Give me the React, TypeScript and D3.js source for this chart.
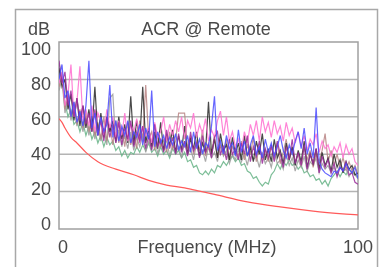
import React, { useEffect, useRef } from 'react';
import * as d3 from 'd3';

// frequency points (MHz) shared by the measured pairs
const freq = [
  0, 1, 2, 3, 4, 5, 6, 7, 8, 9, 10, 11, 12, 13, 14, 15, 16, 17, 18, 19,
  20, 21, 22, 23, 24, 25, 26, 27, 28, 29, 30, 31, 32, 33, 34, 35, 36, 37, 38, 39,
  40, 41, 42, 43, 44, 45, 46, 47, 48, 49, 50, 51, 52, 53, 54, 55, 56, 57, 58, 59,
  60, 61, 62, 63, 64, 65, 66, 67, 68, 69, 70, 71, 72, 73, 74, 75, 76, 77, 78, 79,
  80, 81, 82, 83, 84, 85, 86, 87, 88, 89, 90, 91, 92, 93, 94, 95, 96, 97, 98, 99, 100,
];

const greenPair = [
  89, 80, 68, 60, 64, 56, 58, 52, 57, 50,
  55, 48, 52, 46, 50, 44, 49, 45, 47, 42,
  44, 39, 42, 38, 41, 40, 44, 41, 45, 42,
  46, 41, 43, 39, 44, 40, 42, 38, 43, 40,
  42, 38, 41, 36, 37, 33, 34, 30, 29, 31,
  29, 32, 30, 34, 33, 36, 34, 37, 39, 36,
  38, 34, 35, 31, 30, 27, 28, 25, 23, 25,
  24, 29, 31, 35, 32, 36, 34, 37, 34, 35,
  32, 34, 30, 31, 28, 29, 26, 27, 24, 26,
  23, 27, 29, 31, 28, 31, 29, 32, 30, 29, 28,
];

const grayPair = [
  74, 80, 62, 70, 58, 66, 55, 62, 52, 60,
  50, 58, 48, 56, 47, 54, 45, 70, 72, 46,
  53, 44, 50, 43, 52, 42, 49, 44, 51, 41,
  47, 43, 50, 40, 46, 42, 48, 39, 45, 41,
  44, 38, 47, 40, 43, 37, 46, 39, 42, 36,
  44, 38, 41, 36, 45, 39, 42, 35, 40, 37,
  43, 36, 40, 34, 42, 37, 39, 33, 41, 35,
  38, 33, 41, 35, 37, 32, 40, 34, 38, 31,
  37, 33, 39, 31, 36, 34, 38, 30, 35, 32,
  34, 30, 33, 29, 35, 31, 32, 28, 31, 29, 27,
];

const brownPair = [
  76, 82, 64, 72, 60, 68, 56, 64, 54, 62,
  52, 60, 50, 57, 48, 60, 47, 56, 45, 58,
  46, 54, 44, 57, 45, 52, 43, 58, 47, 77,
  48, 52, 42, 50, 44, 48, 41, 52, 43, 47,
  62, 62, 62, 43, 50, 40, 47, 42, 53, 39,
  46, 41, 50, 38, 45, 40, 48, 37, 44, 41,
  39, 47, 37, 45, 40, 49, 36, 44, 38, 42,
  36, 44, 39, 46, 35, 41, 48, 37, 43, 36,
  40, 34, 44, 37, 42, 33, 40, 36, 42, 51,
  36, 42, 34, 40, 33, 38, 32, 36, 31, 34, 29,
];

const blackPair = [
  86, 76, 80, 64, 72, 58, 70, 55, 66, 54,
  64, 52, 76, 50, 62, 49, 60, 52, 58, 47,
  60, 48, 56, 46, 71, 45, 58, 47, 76, 46,
  54, 44, 52, 43, 57, 42, 50, 45, 53, 41,
  50, 42, 55, 40, 48, 43, 52, 39, 46, 41,
  68, 40, 48, 38, 51, 42, 45, 37, 49, 40,
  46, 37, 50, 39, 44, 36, 47, 40, 51, 37,
  43, 36, 48, 38, 42, 35, 46, 37, 44, 34,
  42, 36, 47, 33, 40, 35, 43, 32, 41, 34,
  38, 31, 40, 33, 37, 30, 36, 32, 34, 29, 30,
];

const pinkPair = [
  78, 84, 66, 72, 88, 60, 68, 87, 58, 64,
  55, 66, 52, 62, 58, 50, 64, 54, 60, 49,
  58, 50, 62, 47, 56, 52, 59, 46, 55, 50,
  54, 46, 57, 49, 52, 60, 47, 56, 50, 58,
  52, 60, 48, 58, 54, 62, 49, 56, 51, 59,
  47, 53, 49, 58, 63, 50, 60, 47, 52, 44,
  48, 42, 52, 46, 56, 50, 58, 47, 60, 52,
  57, 49, 58, 51, 55, 47, 57, 50, 54, 46,
  52, 44, 50, 42, 48, 45, 51, 41, 47, 43,
  45, 39, 44, 41, 46, 38, 45, 40, 43, 36, 34,
];

const purplePair = [
  90, 78, 84, 66, 74, 60, 70, 58, 66, 56,
  62, 52, 64, 50, 58, 47, 60, 49, 56, 46,
  57, 45, 54, 48, 58, 44, 52, 47, 55, 43,
  50, 42, 56, 44, 48, 41, 53, 43, 49, 40,
  51, 41, 47, 39, 52, 42, 46, 38, 50, 41,
  45, 38, 49, 52, 40, 44, 37, 48, 40, 43,
  37, 46, 40, 50, 36, 44, 39, 47, 35, 43,
  38, 45, 36, 47, 40, 33, 44, 37, 48, 35,
  41, 34, 45, 32, 40, 35, 43, 30, 39, 33,
  37, 30, 35, 28, 33, 31, 36, 29, 30, 25, 24,
];

const bluePair = [
  80, 88, 70, 74, 60, 68, 57, 63, 55, 66,
  90, 54, 62, 50, 60, 52, 56, 77, 49, 58,
  47, 55, 50, 58, 46, 52, 49, 56, 45, 54,
  48, 74, 44, 52, 46, 50, 43, 49, 45, 51,
  42, 47, 44, 50, 41, 52, 43, 48, 40, 46,
  44, 55, 71, 42, 47, 40, 50, 43, 46, 39,
  53, 41, 47, 39, 45, 50, 40, 44, 38, 48,
  41, 46, 39, 44, 50, 42, 38, 45, 40, 47,
  52, 43, 54, 40, 46, 38, 65, 36, 32, 30,
  29, 28, 31, 30, 33, 31, 35, 32, 30, 33, 27,
];

// ACR limit line
const limitFreq = [0, 1, 2, 4, 6, 9, 13, 19, 25, 30, 36, 42, 47, 52, 63, 74, 85, 96, 100];
const limitDb = [59, 57, 54, 49, 46, 41, 36, 32, 29, 26, 23.5, 22, 20.3, 18.5, 14.5, 11.8, 9.6, 8, 7.5];

const yTicks = [0, 20, 40, 60, 80, 100];
const xTicks = [0, 100];

const pairs = [
  { name: 'green', color: '#66b386', values: greenPair },
  { name: 'gray', color: '#9a9a9a', values: grayPair },
  { name: 'brown', color: '#b88484', values: brownPair },
  { name: 'black', color: '#2a2a2a', values: blackPair },
  { name: 'pink', color: '#ff6fd0', values: pinkPair },
  { name: 'purple', color: '#9a2a9a', values: purplePair },
  { name: 'blue', color: '#4a4aff', values: bluePair },
];

const App = () => {
  const ref = useRef<SVGSVGElement | null>(null);

  useEffect(() => {
    const svg = d3.select(ref.current);
    svg.selectAll('*').remove();

    const font = '"Liberation Sans", Arial, sans-serif';
    const textColor = '#4a4a4a';
    const left = 59, right = 358, top = 42, bottom = 229;

    const x = d3.scaleLinear().domain([0, 100]).range([left, right]);
    const y = d3.scaleLinear().domain([0, 100]).range([bottom, top]);
    // tick labels sit a bit tighter than the grid in the original
    const yLab = d3.scaleLinear().domain([0, 100]).range([224, 48.5]);

    const defs = svg.append('defs');
    defs.append('filter').attr('id', 'soft')
      .append('feGaussianBlur').attr('stdDeviation', 0.6);
    defs.append('clipPath').attr('id', 'plotclip')
      .append('rect').attr('x', left).attr('y', top)
      .attr('width', right - left).attr('height', bottom - top);

    const g = svg.append('g').attr('filter', 'url(#soft)');

    g.append('rect').attr('width', 388).attr('height', 267).attr('fill', '#fff');

    // outer frame
    g.append('rect')
      .attr('x', 15.5).attr('y', 9.5).attr('width', 362).attr('height', 280)
      .attr('fill', 'none').attr('stroke', '#a8a8a8').attr('stroke-width', 1.5);

    // grid
    g.selectAll('.grid').data(yTicks.filter(d => d > 0 && d < 100)).enter()
      .append('line')
      .attr('x1', left).attr('x2', right)
      .attr('y1', d => y(d)).attr('y2', d => y(d))
      .attr('stroke', '#b4b4b4').attr('stroke-width', 1.5);

    g.append('rect')
      .attr('x', left).attr('y', top).attr('width', right - left).attr('height', bottom - top)
      .attr('fill', 'none').attr('stroke', '#a0a0a0').attr('stroke-width', 1.5);

    const lines = g.append('g').attr('clip-path', 'url(#plotclip)');

    const line = d3.line<number>()
      .x((d, i) => x(freq[i]))
      .y(d => y(d));

    pairs.forEach(p => {
      lines.append('path')
        .datum(p.values)
        .attr('fill', 'none')
        .attr('stroke', p.color)
        .attr('stroke-width', 1.2)
        .attr('stroke-opacity', 0.85)
        .attr('d', line);
    });

    const limitLine = d3.line<number>()
      .x((d, i) => x(limitFreq[i]))
      .y(d => y(d))
      .curve(d3.curveMonotoneX);
    lines.append('path')
      .datum(limitDb)
      .attr('fill', 'none')
      .attr('stroke', '#ff5a5a')
      .attr('stroke-width', 1.2)
      .attr('d', limitLine);

    // y tick labels
    g.selectAll('.ylab').data(yTicks).enter()
      .append('text')
      .attr('x', 51).attr('y', d => yLab(d))
      .attr('dy', '0.36em')
      .attr('text-anchor', 'end')
      .attr('font-family', font).attr('font-size', 18).attr('fill', textColor)
      .text(d => d);

    // x tick labels
    g.selectAll('.xlab').data(xTicks).enter()
      .append('text')
      .attr('x', (d, i) => x(d) + (i === 0 ? 4 : 0)).attr('y', 253)
      .attr('text-anchor', 'middle')
      .attr('font-family', font).attr('font-size', 18).attr('fill', textColor)
      .text(d => d);

    g.append('text')
      .attr('x', 207).attr('y', 253).attr('text-anchor', 'middle')
      .attr('font-family', font).attr('font-size', 18).attr('fill', textColor)
      .text('Frequency (MHz)');

    g.append('text')
      .attr('x', 206).attr('y', 35).attr('text-anchor', 'middle')
      .attr('font-family', font).attr('font-size', 18).attr('fill', textColor)
      .text('ACR @ Remote');

    g.append('text')
      .attr('x', 50).attr('y', 35).attr('text-anchor', 'end')
      .attr('font-family', font).attr('font-size', 18).attr('fill', textColor)
      .text('dB');
  }, []);

  return (
    <svg ref={ref} width={388} height={267}
      style={{ position: 'absolute', left: 0, top: 0, display: 'block' }} />
  );
};

export default App;
